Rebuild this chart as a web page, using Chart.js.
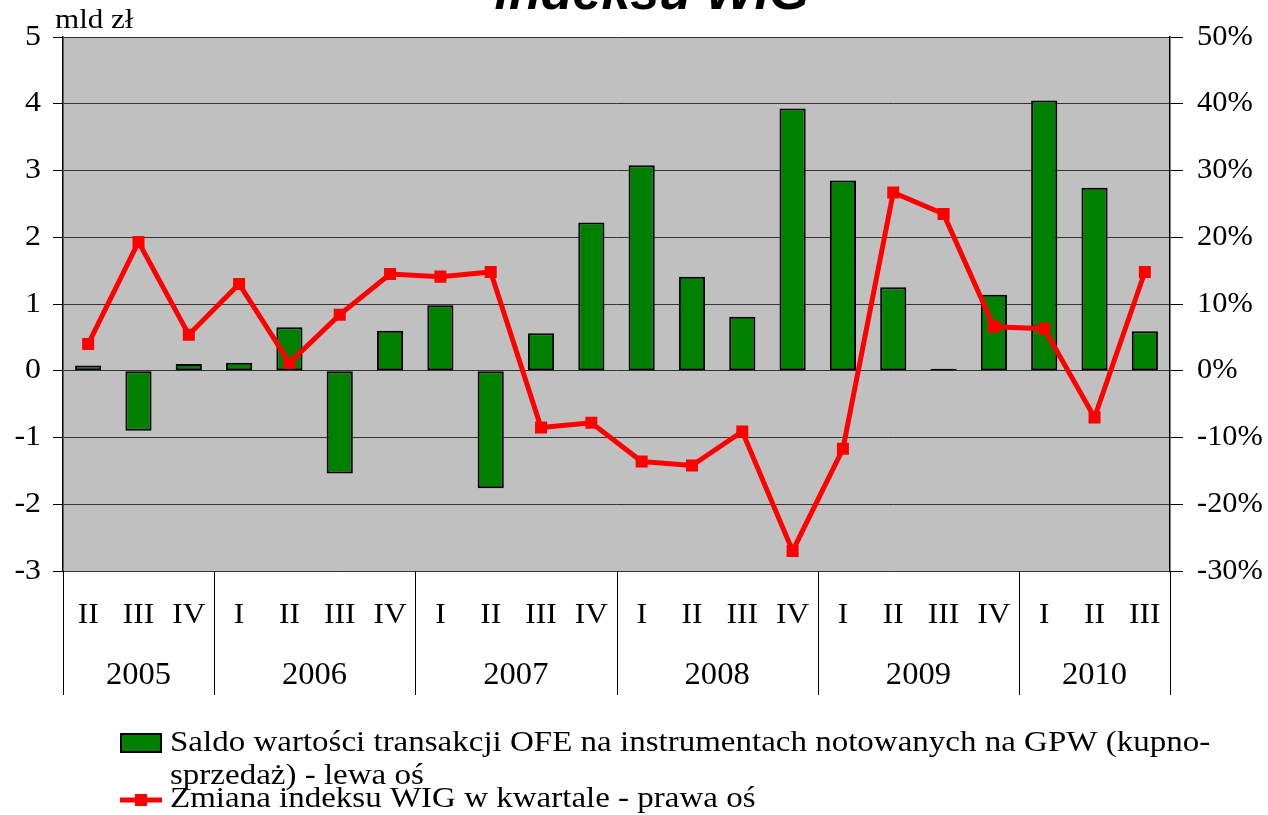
<!DOCTYPE html>
<html>
<head>
<meta charset="utf-8">
<title>Saldo transakcji OFE a zmiana indeksu WIG</title>
<script src="https://cdn.jsdelivr.net/npm/chart.js@4/dist/chart.umd.min.js"></script>
<style>
  html, body { margin: 0; padding: 0; background: #fff; }
  #wrap { width: 1268px; height: 815px; position: relative; }
</style>
</head>
<body>
<div id="wrap"><canvas id="ofeChart" width="1268" height="815"></canvas></div>
<script>
const quarters = ['II', 'III', 'IV', 'I', 'II', 'III', 'IV', 'I', 'II', 'III', 'IV',
  'I', 'II', 'III', 'IV', 'I', 'II', 'III', 'IV', 'I', 'II', 'III'];
const years = ['2005', '2006', '2007', '2008', '2009', '2010'];
const quartersPerYear = [3, 4, 4, 4, 4, 3];

// mld zl, left axis
const ofeBalance = [0.08, -0.9, 0.1, 0.12, 0.65, -1.54, 0.6, 0.98, -1.76, 0.56, 2.22,
  3.08, 1.41, 0.81, 3.93, 2.85, 1.25, 0.03, 1.14, 4.05, 2.74, 0.59];
// % change per quarter, right axis
const wigChange = [4.0, 19.3, 5.4, 13.0, 1.2, 8.4, 14.5, 14.1, 14.8, -8.5, -7.8,
  -13.6, -14.2, -9.1, -27.0, -11.7, 26.7, 23.5, 6.6, 6.3, -7.0, 14.8];

const leftMin = -3, leftMax = 5, leftStep = 1;
const rightMin = -30, rightMax = 50, rightStep = 10;

const titleText = 'indeksu WIG';
const unitText = 'mld zł';
const barLabel = 'Saldo wartości transakcji OFE na instrumentach notowanych na GPW (kupno-sprzedaż) - lewa oś';
const lineLabel = 'Zmiana indeksu WIG w kwartale - prawa oś';

const serif = '"Liberation Serif", "Times New Roman", serif';

// text in the source is drawn a bit wider than normal, so stretch it horizontally
function wideText(ctx, text, x, y, size, align, sx, font) {
  ctx.save();
  ctx.font = font || (size + 'px ' + serif);
  ctx.textAlign = align;
  ctx.textBaseline = 'middle';
  ctx.fillStyle = '#000';
  ctx.translate(x, y);
  ctx.scale(sx, 1);
  ctx.fillText(text, 0, 0);
  ctx.restore();
}

function wrapText(ctx, text, maxW, sx) {
  const tokens = text.match(/[^\s-]*-|[^\s-]+|\s+/g);
  const lines = [];
  let cur = '';
  tokens.forEach(t => {
    const test = cur + t;
    if (ctx.measureText(test.trimEnd()).width * sx > maxW && cur.trim() !== '') {
      lines.push(cur.trimEnd());
      cur = t.trim() === '' ? '' : t;
    } else {
      cur = test;
    }
  });
  if (cur.trim() !== '') lines.push(cur.trimEnd());
  return lines;
}

const plotBackground = {
  id: 'plotBackground',
  beforeDraw(chart) {
    const { ctx, chartArea: a } = chart;
    ctx.save();
    ctx.fillStyle = '#c0c0c0';
    ctx.fillRect(a.left, a.top, a.right - a.left, a.bottom - a.top);
    ctx.restore();
  }
};

const labelsPlugin = {
  id: 'labelsPlugin',
  afterDraw(chart) {
    const { ctx, chartArea: a } = chart;
    const x = chart.scales.x, yl = chart.scales.y, yr = chart.scales.y1;

    // title (only its lower part fits on the page)
    wideText(ctx, titleText, 652, -5, 52, 'center', 1.0,
      'italic bold 52px "Liberation Sans", Arial, sans-serif');
    wideText(ctx, unitText, 55, 21, 27, 'left', 1.15);

    // value axes
    yl.ticks.forEach((t, i) => {
      wideText(ctx, String(t.value), 41, yl.getPixelForTick(i), 29, 'right', 1.1);
    });
    yr.ticks.forEach((t, i) => {
      wideText(ctx, t.value + '%', 1197, yr.getPixelForTick(i), 29, 'left', 1.05);
    });

    // quarters
    quarters.forEach((q, i) => {
      wideText(ctx, q, x.getPixelForValue(i), 615, 30, 'center', 1.05);
    });

    // year groups and separators
    const edge = i => {
      if (i <= 0) return a.left;
      if (i >= quarters.length) return a.right;
      return (x.getPixelForValue(i - 1) + x.getPixelForValue(i)) / 2;
    };
    ctx.save();
    ctx.strokeStyle = '#000';
    ctx.lineWidth = 1;
    let start = 0;
    const bounds = [0];
    quartersPerYear.forEach(n => { start += n; bounds.push(start); });
    bounds.forEach(b => {
      const px = Math.round(edge(b)) + 0.5;
      ctx.beginPath();
      ctx.moveTo(px, a.bottom);
      ctx.lineTo(px, 695);
      ctx.stroke();
    });
    ctx.restore();
    years.forEach((yr, k) => {
      const cx = (edge(bounds[k]) + edge(bounds[k + 1])) / 2;
      wideText(ctx, yr, cx, 676, 31, 'center', 1.05);
    });

    // legend
    const ds = chart.data.datasets;
    ctx.save();
    ctx.fillStyle = ds[0].backgroundColor;
    ctx.strokeStyle = '#000';
    ctx.lineWidth = 2;
    ctx.fillRect(121, 734, 40, 18);
    ctx.strokeRect(121, 734, 40, 18);
    ctx.strokeStyle = ds[1].borderColor;
    ctx.lineWidth = 5;
    ctx.beginPath();
    ctx.moveTo(120, 800);
    ctx.lineTo(162, 800);
    ctx.stroke();
    ctx.fillStyle = ds[1].borderColor;
    ctx.fillRect(135, 794, 12, 12);
    ctx.font = '30px ' + serif;
    const lines = wrapText(ctx, ds[0].label, 1070, 1.1);
    ctx.restore();
    lines.forEach((ln, i) => wideText(ctx, ln, 170, 743 + i * 33, 30, 'left', 1.1));
    wideText(ctx, ds[1].label, 170, 799, 30, 'left', 1.1);
  }
};

const ctx = document.getElementById('ofeChart').getContext('2d');
const chart = new Chart(ctx, {
  data: {
    labels: quarters,
    datasets: [{
      type: 'bar',
      label: barLabel,
      data: ofeBalance,
      yAxisID: 'y',
      backgroundColor: '#008000',
      borderColor: '#000',
      borderWidth: 2,
      borderSkipped: false,
      barPercentage: 0.52,
      categoryPercentage: 1,
      order: 1
    }, {
      type: 'line',
      label: lineLabel,
      data: wigChange,
      yAxisID: 'y1',
      borderColor: '#ff0000',
      backgroundColor: '#ff0000',
      borderWidth: 5,
      pointStyle: 'rect',
      pointRadius: 8.5,
      pointBorderWidth: 0,
      pointBackgroundColor: '#ff0000',
      tension: 0,
      order: 0
    }]
  },
  options: {
    responsive: false,
    devicePixelRatio: 1,
    animation: false,
    layout: { padding: { top: 37, left: 0, right: 0, bottom: 0 } },
    plugins: {
      legend: { display: false },
      title: { display: false },
      tooltip: { enabled: false }
    },
    scales: {
      x: {
        offset: true,
        grid: { display: false, drawTicks: false },
        border: { display: false },
        ticks: { display: false },
        afterFit(s) { s.height = 244; }
      },
      y: {
        position: 'left',
        min: leftMin,
        max: leftMax,
        ticks: { stepSize: leftStep, display: false },
        grid: { color: '#333', lineWidth: 1, tickLength: 10, tickColor: '#000' },
        border: { color: '#000', width: 1.5 },
        afterFit(s) { s.width = 63; }
      },
      y1: {
        position: 'right',
        min: rightMin,
        max: rightMax,
        ticks: { stepSize: rightStep, display: false },
        grid: { drawOnChartArea: false, tickLength: 13, tickColor: '#000' },
        border: { color: '#000', width: 1.5 },
        afterFit(s) { s.width = 98; }
      }
    }
  },
  plugins: [plotBackground, labelsPlugin]
});
</script>
</body>
</html>
